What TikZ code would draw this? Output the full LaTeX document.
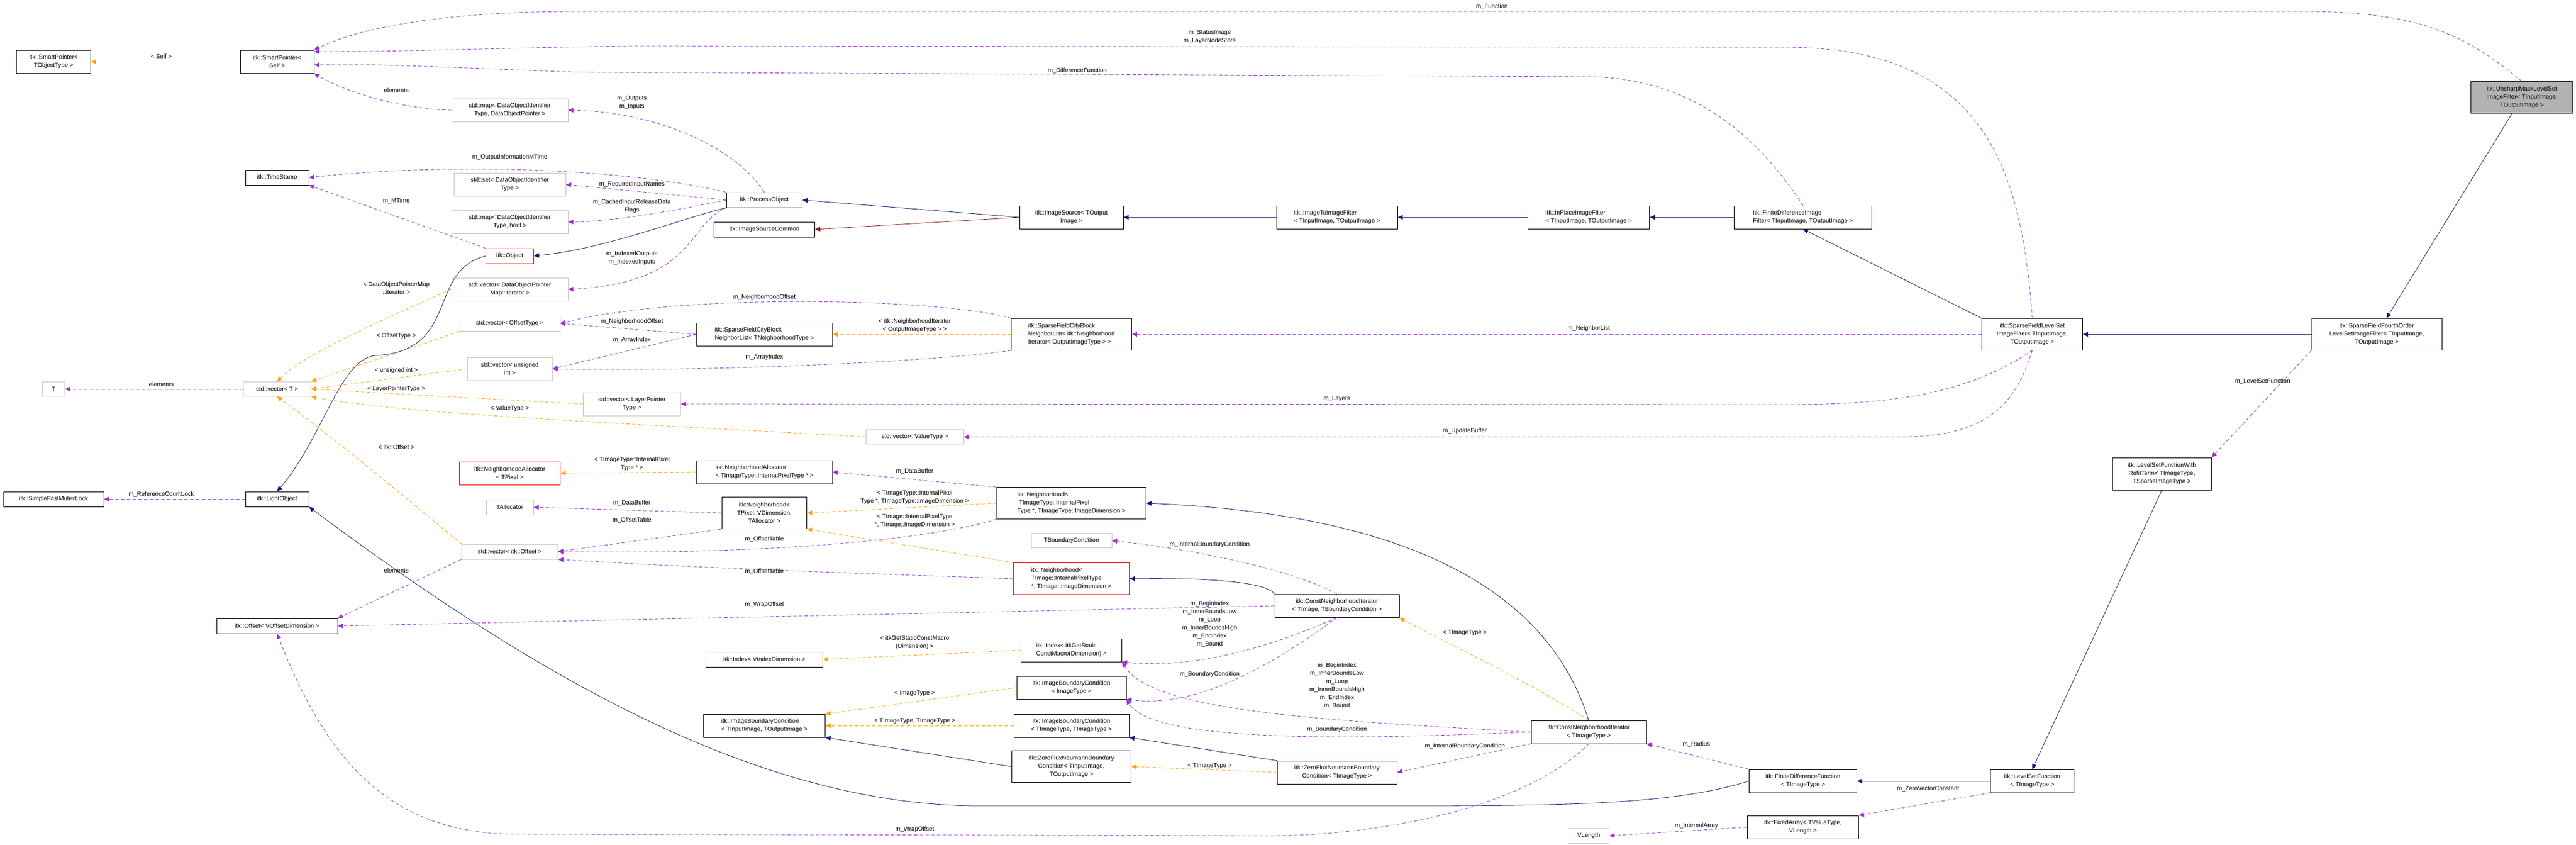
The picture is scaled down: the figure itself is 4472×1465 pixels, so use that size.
\documentclass[tikz,border=0pt]{standalone}
\usepackage{fontspec}
\setmainfont{Liberation Sans}
\usetikzlibrary{arrows.meta}
\definecolor{usecol}{RGB}{154,50,205}
\definecolor{tmplcol}{RGB}{255,165,0}
\definecolor{inhcol}{RGB}{25,25,112}
\definecolor{protcol}{RGB}{139,26,26}
\begin{document}
\begin{tikzpicture}[x=1pt,
y=-1pt,
every node/.style={
font=\fontsize{10.5}{14}\selectfont,
align=center,
inner sep=2pt,
},
cls/.style={
draw=black,
fill=white,
line width=0.8pt,
},
ext/.style={
draw=gray!45,
fill=white,
line width=0.8pt,
},
undoc/.style={
draw=red,
fill=white,
line width=0.8pt,
},
lbl/.style={
fill=none,
},
use/.style={draw=usecol,dashed,dash pattern=on 6pt off 4pt,line width=0.8pt,-{Triangle[length=9pt,width=8pt]}},
tmpl/.style={draw=tmplcol,dashed,dash pattern=on 6pt off 4pt,line width=0.8pt,-{Triangle[length=9pt,width=8pt]}},
inh/.style={draw=inhcol,line width=0.8pt,-{Triangle[length=9pt,width=8pt]}},
prot/.style={draw=protcol,line width=0.8pt,-{Triangle[length=9pt,width=8pt]}}]

\useasboundingbox (0,0) rectangle (4472,1465);

%left column
\node[cls,minimum width=129,minimum height=40] (spt) at (93,107) {itk::SmartPointer<\\TObjectType >};
\node[ext,minimum width=39,minimum height=25] (tnode) at (93,675) {T};
\node[cls,minimum width=174,minimum height=26] (mutex) at (93,866) {itk::SimpleFastMutexLock};

%second column
\node[cls,minimum width=128,minimum height=40] (sps) at (481,107) {itk::SmartPointer<\\Self >};
\node[cls,minimum width=110,minimum height=26] (stamp) at (481,308) {itk::TimeStamp};
\node[ext,minimum width=117,minimum height=25] (vect) at (481,675) {std::vector< T >};
\node[cls,minimum width=110,minimum height=26] (lightobj) at (481,866) {itk::LightObject};
\node[cls,minimum width=210,minimum height=26] (offsetv) at (481,1086) {itk::Offset< VOffsetDimension >};

%third column
\node[ext,minimum width=202,minimum height=40] (mapdo) at (885,191) {std::map< DataObjectIdentifier\\Type, DataObjectPointer >};
\node[ext,minimum width=194,minimum height=40] (setdo) at (885,320) {std::set< DataObjectIdentifier\\Type >};
\node[ext,minimum width=202,minimum height=40] (mapbool) at (885,385) {std::map< DataObjectIdentifier\\Type, bool >};
\node[undoc,minimum width=83,minimum height=26] (object) at (885,444) {itk::Object};
\node[ext,minimum width=202,minimum height=40] (vecdopm) at (885,502) {std::vector< DataObjectPointer\\Map::iterator >};
\node[ext,minimum width=174,minimum height=26] (vecofs) at (885,561) {std::vector< OffsetType >};
\node[ext,minimum width=148,minimum height=40] (vecuint) at (885,640) {std::vector< unsigned\\int >};
\node[undoc,minimum width=175,minimum height=40] (nallocpix) at (885,821) {itk::NeighborhoodAllocator\\< TPixel >};
\node[ext,minimum width=82,minimum height=26] (talloc) at (885,880) {TAllocator};
\node[ext,minimum width=167,minimum height=26] (vecitkofs) at (885,957) {std::vector< itk::Offset >};

%fourth column
\node[ext,minimum width=169,minimum height=40] (veclayer) at (1097,701) {std::vector< LayerPointer\\Type >};
\node[cls,minimum width=131,minimum height=26] (procobj) at (1327,347) {itk::ProcessObject};
\node[cls,minimum width=175,minimum height=26] (srccommon) at (1327,398) {itk::ImageSourceCommon};
\node[cls,minimum width=236,minimum height=40,align=left] (cityt) at (1327,580) {itk::SparseFieldCityBlock\\NeighborList< TNeighborhoodType >};
\node[cls,minimum width=236,minimum height=40,align=left] (nallocit) at (1327,819) {itk::NeighborhoodAllocator\\< TImageType::InternalPixelType * >};
\node[cls,minimum width=147,minimum height=55] (neighpix) at (1327,890) {itk::Neighborhood<\\TPixel, VDimension,\\TAllocator >};
\node[cls,minimum width=203,minimum height=26] (indexv) at (1327,1144) {itk::Index< VIndexDimension >};
\node[cls,minimum width=211,minimum height=40,align=left] (ibcio) at (1327,1259) {itk::ImageBoundaryCondition\\< TInputImage, TOutputImage >};

%fifth column
\node[ext,minimum width=170,minimum height=25] (vecval) at (1588,758) {std::vector< ValueType >};
\node[cls,minimum width=180,minimum height=40] (imgsrc) at (1860,377) {itk::ImageSource< TOutput\\Image >};
\node[cls,minimum width=209,minimum height=55,align=left] (cityni) at (1860,580) {itk::SparseFieldCityBlock\\NeighborList< itk::Neighborhood\\Iterator< OutputImageType > >};
\node[cls,minimum width=259,minimum height=55,align=left] (neighit) at (1860,873) {itk::Neighborhood<\\\ TImageType::InternalPixel\\Type *, TImageType::ImageDimension >};
\node[ext,minimum width=140,minimum height=25] (tbound) at (1860,938) {TBoundaryCondition};
\node[undoc,minimum width=201,minimum height=55,align=left] (neighti) at (1860,1004) {itk::Neighborhood<\\TImage::InternalPixelType\\*, TImage::ImageDimension >};
\node[cls,minimum width=175,minimum height=40,align=left] (indexmacro) at (1860,1128) {itk::Index< itkGetStatic\\ConstMacro(Dimension) >};
\node[cls,minimum width=190,minimum height=40] (ibcimg) at (1860,1193) {itk::ImageBoundaryCondition\\< ImageType >};
\node[cls,minimum width=200,minimum height=40] (ibctt) at (1860,1259) {itk::ImageBoundaryCondition\\< TImageType, TImageType >};
\node[cls,minimum width=207,minimum height=55] (zfnio) at (1860,1330) {itk::ZeroFluxNeumannBoundary\\Condition< TInputImage,\\TOutputImage >};

%sixth and seventh column
\node[cls,minimum width=210,minimum height=40,align=left] (img2img) at (2321,377) {itk::ImageToImageFilter\\< TInputImage, TOutputImage >};
\node[cls,minimum width=216,minimum height=40] (cnitb) at (2321,1051) {itk::ConstNeighborhoodIterator\\< TImage, TBoundaryCondition >};
\node[cls,minimum width=208,minimum height=40] (zfnt) at (2321,1340) {itk::ZeroFluxNeumannBoundary\\Condition< TImageType >};
\node[cls,minimum width=211,minimum height=40,align=left] (inplace) at (2758,377) {itk::InPlaceImageFilter\\< TInputImage, TOutputImage >};
\node[cls,minimum width=200,minimum height=40] (cnit) at (2758,1270) {itk::ConstNeighborhoodIterator\\< TImageType >};
\node[ext,minimum width=71,minimum height=26] (vlength) at (2758,1450) {VLength};

%right side
\node[cls,minimum width=239,minimum height=40,align=left] (fdif) at (3130,377) {itk::FiniteDifferenceImage\\Filter< TInputImage, TOutputImage >};
\node[cls,minimum width=187,minimum height=40] (fdf) at (3130,1355) {itk::FiniteDifferenceFunction\\< TImageType >};
\node[cls,minimum width=193,minimum height=40] (fixedarr) at (3130,1435) {itk::FixedArray< TValueType,\\VLength >};
\node[cls,minimum width=175,minimum height=55] (sfls) at (3528,580) {itk::SparseFieldLevelSet\\ImageFilter< TInputImage,\\TOutputImage >};
\node[cls,minimum width=145,minimum height=40] (lsf) at (3528,1355) {itk::LevelSetFunction\\< TImageType >};
\node[cls,minimum width=172,minimum height=56] (lsfrefit) at (3753,822) {itk::LevelSetFunctionWith\\RefitTerm< TImageType,\\TSparseImageType >};
\node[cls,minimum width=226,minimum height=55] (sf4) at (4126,580) {itk::SparseFieldFourthOrder\\LevelSetImageFilter< TInputImage,\\TOutputImage >};
\node[cls,fill=gray!60,minimum width=177,minimum height=55] (unsharp) at (4378,169) {itk::UnsharpMaskLevelSet\\ImageFilter< TInputImage,\\TOutputImage >};

%inheritance
\draw[inh] (unsharp) -- (sf4);
\draw[inh] (sf4) -- (sfls);
\draw[inh] (sfls.north west) -- (fdif.south);
\draw[inh] (fdif) -- (inplace);
\draw[inh] (inplace) -- (img2img);
\draw[inh] (img2img) -- (imgsrc);
\draw[inh] (imgsrc.west) -- (procobj.east);
\draw[prot] (imgsrc.west) -- (srccommon.east);
\draw[inh] (procobj.south west) .. controls (1180,380) and (1050,432) .. (object.east);
\draw[inh] (object.west) .. controls (740,470) and (800,610) .. (650,617) .. controls (590,625) and (560,760) .. (lightobj.north);
\draw[inh] (lsfrefit.south) -- (lsf.north);
\draw[inh] (lsf) -- (fdf);
\draw[inh] (fdf.west) .. controls (2900,1398) and (2700,1398) .. (2400,1398) -- (1700,1398) .. controls (1300,1398) and (900,1150) .. (lightobj.south east);
\draw[inh] (cnit.north) .. controls (2680,1000) and (2400,890) .. (neighit.east);
\draw[inh] (cnitb.north west) .. controls (2200,1010) and (2100,1002) .. (neighti.east);
\draw[inh] (zfnio.west) -- (ibcio.south east);
\draw[inh] (zfnt.north west) -- (ibctt.south east);

%usage
\draw[tmpl] (sps) -- (spt);
\node[lbl] (lself) at (280,98) {< Self >};
\draw[use] (unsharp.north) .. controls (4280,60) and (4200,20) .. (4000,20) -- (1000,20) .. controls (760,20) and (620,50) .. (sps.north east);
\node[lbl] (lfunction) at (2590,12) {m\_Function};
\draw[use] (sfls.north) .. controls (3510,300) and (3450,82) .. (3100,82) -- (1100,80) .. controls (900,82) and (700,90) .. (sps.15);
\node[lbl] (lstatus) at (2100,64) {m\_StatusImage\\m\_LayerNodeStore};
\draw[use] (fdif.north) .. controls (3060,250) and (2950,133) .. (2750,133) -- (1000,125) .. controls (800,118) and (650,110) .. (sps.-5);
\node[lbl] (ldiff) at (1870,123) {m\_DifferenceFunction};
\draw[use] (mapdo.west) .. controls (700,190) and (600,160) .. (sps.south east);
\node[lbl] (lelem1) at (688,157) {elements};
\draw[use] (procobj.north) .. controls (1280,260) and (1150,195) .. (mapdo.east);
\node[lbl] (loutputs) at (1097,178) {m\_Outputs\\m\_Inputs};
\draw[use] (procobj.north west) .. controls (1100,295) and (800,280) .. (stamp.east);
\node[lbl] (lmtimeinfo) at (885,273) {m\_OutputInformationMTime};
\draw[use] (procobj.west) -- (setdo.east);
\node[lbl] (lrequired) at (1097,320) {m\_RequiredInputNames};
\draw[use] (procobj.west) .. controls (1150,370) and (1050,385) .. (mapbool.east);
\node[lbl] (lcached) at (1097,358) {m\_CachedInputReleaseData\\Flags};
\draw[use] (procobj.south west) .. controls (1190,390) and (1210,490) .. (vecdopm.east);
\node[lbl] (lindexed) at (1097,448) {m\_IndexedOutputs\\m\_IndexedInputs};
\draw[use] (object.north west) -- (stamp.south east);
\node[lbl] (lmtime) at (688,349) {m\_MTime};
\draw[tmpl] (vecdopm.west) .. controls (650,560) and (520,620) .. (vect.north);
\node[lbl] (ldopm) at (688,500) {< DataObjectPointerMap\\::iterator >};
\draw[tmpl] (vecofs.south west) .. controls (700,610) and (600,640) .. (vect.north east);
\node[lbl] (lofstype) at (688,583) {< OffsetType >};
\draw[tmpl] (vecuint.west) -- (vect.east);
\node[lbl] (luint) at (688,643) {< unsigned int >};
\draw[tmpl] (veclayer.west) -- (vect.east);
\node[lbl] (llayer) at (688,675) {< LayerPointerType >};
\draw[tmpl] (vecval.west) .. controls (1200,740) and (700,720) .. (vect.south east);
\node[lbl] (lvaltype) at (885,709) {< ValueType >};
\draw[tmpl] (vecitkofs.north west) .. controls (700,860) and (580,760) .. (vect.south);
\node[lbl] (litkofs) at (688,776) {< itk::Offset >};
\draw[use] (vect) -- (tnode);
\node[lbl] (lelem2) at (280,667) {elements};
\draw[use] (lightobj) -- (mutex);
\node[lbl] (lrefcount) at (280,858) {m\_ReferenceCountLock};
\draw[use] (vecitkofs.south west) -- (offsetv.north east);
\node[lbl] (lelem3) at (688,990) {elements};
\draw[use] (cityni.north west) .. controls (1650,520) and (1200,505) .. (vecofs.east);
\node[lbl] (lnbofs1) at (1327,516) {m\_NeighborhoodOffset};
\draw[use] (cityt.west) -- (vecofs.east);
\node[lbl] (lnbofs2) at (1097,558) {m\_NeighborhoodOffset};
\draw[use] (cityt.west) -- (vecuint.east);
\node[lbl] (larr1) at (1097,590) {m\_ArrayIndex};
\draw[use] (cityni.south west) .. controls (1600,630) and (1200,645) .. (vecuint.east);
\node[lbl] (larr2) at (1327,620) {m\_ArrayIndex};
\draw[tmpl] (cityni.west) -- (cityt.east);
\node[lbl] (lnbiter) at (1588,565) {< itk::NeighborhoodIterator\\< OutputImageType > >};
\draw[use] (sfls.west) -- (cityni.east);
\node[lbl] (lnblist) at (2758,570) {m\_NeighborList};
\draw[use] (sfls.south) .. controls (3420,680) and (3300,702) .. (3100,702) -- (veclayer.east);
\node[lbl] (llayers) at (2321,692) {m\_Layers};
\draw[use] (sfls.south) .. controls (3500,700) and (3450,758) .. (3300,758) -- (vecval.east);
\node[lbl] (lupdate) at (2543,748) {m\_UpdateBuffer};
\draw[use] (sf4.south west) -- (lsfrefit.north east);
\node[lbl] (llsfunc) at (3928,662) {m\_LevelSetFunction};
\draw[tmpl] (nallocit.west) -- (nallocpix.east);
\node[lbl] (lpixtype) at (1097,805) {< TImageType::InternalPixel\\Type * >};
\draw[use] (neighpix.west) -- (talloc.east);
\node[lbl] (ldatabuf1) at (1097,873) {m\_DataBuffer};
\draw[use] (neighpix.south west) -- (vecitkofs.east);
\node[lbl] (lofstab1) at (1097,903) {m\_OffsetTable};
\draw[use] (neighit.north west) -- (nallocit.east);
\node[lbl] (ldatabuf2) at (1588,818) {m\_DataBuffer};
\draw[tmpl] (neighit.west) -- (neighpix.east);
\node[lbl] (lneighit) at (1588,863) {< TImageType::InternalPixel\\Type *, TImageType::ImageDimension >};
\draw[tmpl] (neighti.north west) -- (neighpix.south east);
\node[lbl] (lneighti) at (1588,904) {< TImage::InternalPixelType\\*, TImage::ImageDimension >};
\draw[use] (neighit.south west) .. controls (1600,940) and (1300,962) .. (vecitkofs.east);
\node[lbl] (lofstab2) at (1327,936) {m\_OffsetTable};
\draw[use] (neighti.west) .. controls (1500,995) and (1200,985) .. (vecitkofs.south east);
\node[lbl] (lofstab3) at (1327,992) {m\_OffsetTable};
\draw[use] (cnitb.north) .. controls (2240,985) and (2050,950) .. (tbound.east);
\node[lbl] (linternal1) at (2100,945) {m\_InternalBoundaryCondition};
\draw[use] (cnitb.west) -- (offsetv.east);
\node[lbl] (lwrap1) at (1327,1049) {m\_WrapOffset};
\draw[use] (cnitb.south) .. controls (2190,1130) and (2060,1160) .. (indexmacro.south east);
\node[lbl] (lbounds1) at (2100,1083) {m\_BeginIndex\\m\_InnerBoundsLow\\m\_Loop\\m\_InnerBoundsHigh\\m\_EndIndex\\m\_Bound};
\draw[use] (cnitb.south) .. controls (2160,1190) and (2050,1225) .. (ibcimg.south east);
\node[lbl] (lbound1) at (2100,1170) {m\_BoundaryCondition};
\draw[use] (cnit.west) .. controls (2300,1250) and (2000,1235) .. (indexmacro.south east);
\node[lbl] (lbounds2) at (2321,1190) {m\_BeginIndex\\m\_InnerBoundsLow\\m\_Loop\\m\_InnerBoundsHigh\\m\_EndIndex\\m\_Bound};
\draw[use] (cnit.west) .. controls (2300,1285) and (2000,1285) .. (ibcimg.south east);
\node[lbl] (lbound2) at (2321,1266) {m\_BoundaryCondition};
\draw[tmpl] (cnit.north) .. controls (2650,1180) and (2500,1110) .. (cnitb.south east);
\node[lbl] (ltimg1) at (2543,1098) {< TImageType >};
\draw[use] (cnit.south west) -- (zfnt.east);
\node[lbl] (linternal2) at (2543,1295) {m\_InternalBoundaryCondition};
\draw[use] (cnit.south) .. controls (2650,1400) and (2400,1450) .. (2200,1450) -- (880,1447) .. controls (660,1440) and (560,1300) .. (offsetv.south);
\node[lbl] (lwrap2) at (1588,1439) {m\_WrapOffset};
\draw[use] (fdf.north west) -- (cnit.south east);
\node[lbl] (lradius) at (2945,1292) {m\_Radius};
\draw[tmpl] (indexmacro.west) -- (indexv.east);
\node[lbl] (lmacro) at (1588,1115) {< itkGetStaticConstMacro\\(Dimension) >};
\draw[tmpl] (ibcimg.west) -- (ibcio.north east);
\node[lbl] (limgtype) at (1588,1203) {< ImageType >};
\draw[tmpl] (ibctt.west) -- (ibcio.east);
\node[lbl] (ltt) at (1588,1251) {< TImageType, TImageType >};
\draw[tmpl] (zfnt.west) -- (zfnio.east);
\node[lbl] (ltimg2) at (2100,1329) {< TImageType >};
\draw[use] (lsf.south west) -- (fixedarr.north east);
\node[lbl] (lzero) at (3347,1369) {m\_ZeroVectorConstant};
\draw[use] (fixedarr.west) -- (vlength.east);
\node[lbl] (linarray) at (2945,1433) {m\_InternalArray};
\end{tikzpicture}
\end{document}
